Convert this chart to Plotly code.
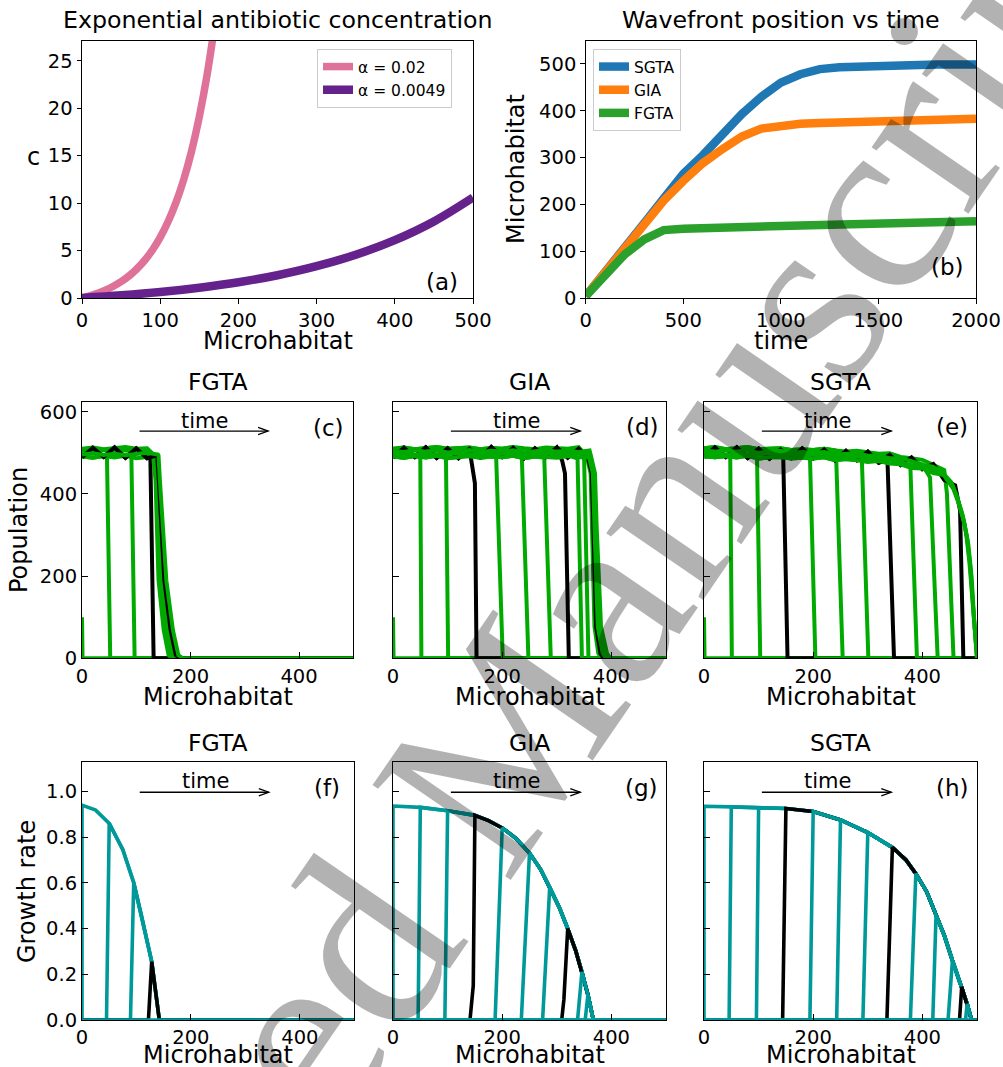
import plotly.graph_objects as go

FONT = "DejaVu Sans"
W, H = 1003, 1067

# ---------------- (a) exponential antibiotic concentration ----------------
A_X_HIGH = [0, 10, 20, 30, 40, 50, 60, 70, 80, 90, 100, 110, 120, 130, 140, 150, 160, 170]
A_C_HIGH = [0.0, 0.22, 0.49, 0.82, 1.23, 1.72, 2.32, 3.06, 3.95, 5.05, 6.39, 8.03, 10.02, 12.46, 15.44, 19.09, 23.53, 28.96]
A_X_LOW = [0, 50, 100, 150, 200, 250, 300, 350, 400, 450, 500]
A_C_LOW = [0.0, 0.28, 0.63, 1.09, 1.66, 2.40, 3.35, 4.56, 6.10, 8.07, 10.59]
A_NAMES = ["α = 0.02", "α = 0.0049"]

# ---------------- (b) wavefront position vs time ----------------
B_TIME = [0, 100, 200, 300, 400, 500, 600, 700, 800, 900, 1000, 1100, 1200, 1300, 1400, 1500, 1600, 1700, 1800, 1900, 2000]
B_SGTA = [4, 54, 105, 160, 213, 265, 305, 350, 393, 430, 460, 478, 489, 493, 495, 497, 498, 499, 499, 499, 499]
B_GIA = [4, 54, 105, 160, 208, 250, 288, 318, 345, 362, 369, 372, 374, 375, 376, 377, 378, 380, 381, 382, 383]
B_FGTA = [4, 50, 93, 125, 145, 148, 150, 151, 152, 153, 154, 155, 156, 157, 158, 159, 160, 161, 162, 163, 164]
B_NAMES = ["SGTA", "GIA", "FGTA"]

# ---------------- population profiles (c)-(e) ----------------
P_GRID = [0, 20, 40, 60, 80, 100, 120, 140, 160, 180, 200, 220, 240, 260, 280, 300, 320, 340, 360, 380, 400, 420, 440, 460, 480, 500]
P_JITTER = [
    [-9, -12, -8, -11, -7, -13, -10, -8, -12, -9, -11, -7, -13, -9, -10, -12, -8, -11, -9, -13, -8, -10, -12, -9, -11, -10],
    [-4, -1, -5, -2, -6, -3, 0, -4, -2, -5, -1, -3, -6, -2, 0, -4, -5, -1, -3, -6, -2, -4, 0, -3, -5, -2],
    [5, 2, 7, 3, 6, 1, 4, 7, 2, 5, 3, 6, 1, 4, 7, 3, 5, 2, 6, 4, 1, 5, 7, 3, 4, 6],
    [10, 13, 9, 12, 14, 10, 11, 13, 9, 12, 10, 14, 11, 9, 13, 12, 10, 14, 9, 11, 13, 10, 12, 14, 11, 9],
]
P_JITTER_BLACK = [-11, 12, -10, 13, -12, 11, -13, 10, -11, 14, -10, 12, -13, 11, -10, 13, -12, 10, -11, 13, -10, 12, -12, 11, -11, 10]
CD_LEVEL = 500
E_BASE = [501, 501, 500, 500, 500, 499, 499, 498, 498, 497, 497, 496, 495, 494, 492, 490, 488, 485, 481, 476, 470, 461, 446, 410, 300, 0]

C_FRONTS = [
    [(0, 100), (1, 0)],
    [(46, 492), (52, 0)],
    [(91, 492), (97, 0)],
    [(126, 490), (132, 0)],
    [(131, 494), (135.5, 434), (138, 300), (141, 190), (150.5, 69), (159.5, 8), (166, 0)],
    [(133.5, 494), (137.5, 434), (141, 300), (144.6, 190), (154.8, 69), (164, 8), (171, 0)],
    [(136, 494), (139.5, 434), (144, 300), (148.2, 190), (159, 69), (168.5, 8), (176, 0)],
    [(138.5, 494), (141.5, 434), (147, 300), (151.8, 190), (163.3, 69), (173, 8), (181, 0)],
    [(141, 494), (143.5, 434), (150, 300), (155.4, 190), (167.5, 69), (177.5, 8), (186, 0)],
]
D_FRONTS = [
    [(0, 100), (1, 0)],
    [(50, 490), (52, 0)],
    [(97, 490), (101, 0)],
    [(143, 485), (150, 426), (153, 0)],
    [(189, 488), (201, 0)],
    [(236, 488), (248, 0)],
    [(277, 488), (289, 0)],
    [(310, 480), (315, 450), (322, 0)],
    [(338, 486), (346, 0)],
    [(350, 486), (358, 0)],
    [(355, 490), (362, 450), (365, 320), (369, 77), (376, 12), (382, 0)],
    [(357, 490), (364, 450), (367, 320), (372, 77), (380, 12), (386, 0)],
    [(359, 490), (366, 450), (369, 320), (375, 77), (384, 12), (390, 0)],
    [(361, 490), (368, 450), (371, 320), (378, 77), (388, 12), (394, 0)],
    [(363, 490), (370, 450), (373, 320), (381, 77), (392, 12), (398, 0)],
]
E_FRONTS = [
    [(0, 100), (1, 0)],
    [(48, 498), (51, 0)],
    [(97, 497), (103, 0)],
    [(145, 496), (153, 0)],
    [(194, 494), (204, 0)],
    [(242, 492), (254, 0)],
    [(289, 489), (301, 0)],
    [(336, 482), (348, 0)],
    [(378, 465), (390, 0)],
    [(414, 440), (428, 0)],
    [(445, 400), (457, 0)],
    [(469, 360), (475, 0)],
    [(440, 446), (455, 420), (465, 385), (475, 340), (482, 292), (488, 220), (494, 104), (498, 30), (500, 0)],
    [(442, 440), (457, 412), (467, 375), (477, 328), (484, 278), (490, 200), (495, 90), (499, 20), (500, 0)],
    [(438, 450), (453, 428), (463, 395), (473, 352), (480, 305), (486, 235), (492, 125), (497, 40), (500, 5)],
]

# ---------------- growth rate profiles (f)-(h) ----------------
F_ENV_X = [0, 25, 50, 75, 95, 110, 128, 142]
F_ENV_G = [0.94, 0.918, 0.86, 0.745, 0.60, 0.45, 0.255, 0.0]
F_SNAPS = [([(0, 0)], 0), ([(45, 0)], 2), ([(89, 0)], 4), ([(122, 0)], 6)]

G_ENV_X = [0, 50, 100, 150, 175, 200, 225, 250, 270, 287, 305, 320, 335, 346, 357, 367]
G_ENV_G = [0.936, 0.93, 0.915, 0.895, 0.872, 0.84, 0.795, 0.73, 0.66, 0.58, 0.49, 0.40, 0.30, 0.21, 0.11, 0.0]
G_SNAPS = [([(0, 0)], 0), ([(46, 0)], 1), ([(95, 0)], 2), ([(141, 0), (147, 0.15)], 3),
           ([(187, 0)], 5), ([(235, 0)], 7), ([(274, 0)], 9), ([(309, 0), (313, 0.09)], 11),
           ([(338, 0)], 13), ([(352, 0)], 14)]

H_ENV_X = [0, 50, 100, 150, 200, 250, 300, 345, 370, 388, 408, 425, 440, 455, 472, 482, 490]
H_ENV_G = [0.935, 0.932, 0.928, 0.925, 0.912, 0.875, 0.82, 0.755, 0.70, 0.64, 0.56, 0.46, 0.37, 0.26, 0.145, 0.07, 0.0]
H_SNAPS = [([(0, 0)], 0), ([(46, 0)], 1), ([(96, 0)], 2), ([(144, 0)], 3), ([(194, 0)], 4),
           ([(243, 0)], 5), ([(291, 0)], 6), ([(335, 0)], 7), ([(378, 0)], 9), ([(419, 0)], 11),
           ([(447, 0)], 13), ([(468, 0)], 14), ([(479, 0)], 15)]

# ---------------- layout geometry (pixels) ----------------
PANELS = {
    "a": (82, 473, 41, 298),
    "b": (585.7, 976, 41, 298),
    "c": (82, 353.3, 402.3, 658.3),
    "d": (393, 666, 402.3, 658.3),
    "e": (704, 977, 402.3, 658.3),
    "f": (82, 354.3, 762.3, 1020),
    "g": (393, 666, 762.3, 1020),
    "h": (704, 977, 762.3, 1020),
}
ORDER = ["a", "b", "c", "d", "e", "f", "g", "h"]
XRANGE = {"a": [0, 500], "b": [0, 2000]}
YRANGE = {"a": [0, 27.08], "b": [0, 549], "c": [0, 623], "d": [0, 623], "e": [0, 623],
          "f": [0, 1.127], "g": [0, 1.127], "h": [0, 1.127]}

GREEN = "#00aa00"
TEAL = "#009999"
BLACK = "#000000"

fig = go.Figure()


def ax_ids(p):
    i = ORDER.index(p) + 1
    return ("x" if i == 1 else f"x{i}"), ("y" if i == 1 else f"y{i}")


def add_line(p, xs, ys, color, width, name=None, legend=None, showlegend=False, shape="linear"):
    xa, ya = ax_ids(p)
    fig.add_trace(go.Scatter(x=xs, y=ys, mode="lines", line=dict(color=color, width=width, shape=shape),
                             xaxis=xa, yaxis=ya, name=name, showlegend=showlegend,
                             legend=legend, hoverinfo="skip"))


# (a)
add_line("a", A_X_HIGH, A_C_HIGH, "#de7298", 7.5, A_NAMES[0], "legend", True, "spline")
add_line("a", A_X_LOW, A_C_LOW, "#66228c", 8.5, A_NAMES[1], "legend", True, "spline")

# (b)
for vals, col, nm in zip([B_SGTA, B_GIA, B_FGTA], ["#1f77b4", "#ff7f0e", "#2ca02c"], B_NAMES):
    add_line("b", B_TIME, vals, col, 8.5, nm, "legend2", True)


# population panels
def pop_panel(p, fronts, base):
    green_count = 0
    for k, front in enumerate(fronts):
        black = (k % 4 == 3)
        if black:
            jit = P_JITTER_BLACK
        else:
            jit = P_JITTER[green_count % 4]
            if k > 0:
                green_count += 1
        x0 = front[0][0]
        xs, ys = [], []
        for i, gx in enumerate(P_GRID):
            if gx < x0:
                b = base[i] if isinstance(base, list) else base
                xs.append(gx)
                ys.append(b + jit[i])
        for fx, fy in front:
            xs.append(fx)
            ys.append(fy)
        if xs[-1] < 500:
            xs.append(500)
            ys.append(0)
        add_line(p, xs, ys, BLACK if black else GREEN, 4)


pop_panel("c", C_FRONTS, CD_LEVEL)
pop_panel("d", D_FRONTS, CD_LEVEL)
pop_panel("e", E_FRONTS, E_BASE)


def growth_panel(p, snaps, env_x, env_g):
    for k, (rise, idx) in enumerate(snaps):
        black = (k % 4 == 3)
        xs = [0] + [r[0] for r in rise] + env_x[idx:] + [500]
        ys = [0] + [r[1] for r in rise] + env_g[idx:] + [0]
        add_line(p, xs, ys, BLACK if black else TEAL, 3.6)
    add_line(p, [0, 500], [0, 0], TEAL, 3.6)


growth_panel("f", F_SNAPS, F_ENV_X, F_ENV_G)
growth_panel("g", G_SNAPS, G_ENV_X, G_ENV_G)
growth_panel("h", H_SNAPS, H_ENV_X, H_ENV_G)

# ---------------- axes ----------------
layout = dict(width=W, height=H, margin=dict(l=0, r=0, t=0, b=0, autoexpand=False),
              paper_bgcolor="white", plot_bgcolor="white", showlegend=True)

TICKS = {
    "a": dict(x=[0, 100, 200, 300, 400, 500], y=[0, 5, 10, 15, 20, 25]),
    "b": dict(x=[0, 500, 1000, 1500, 2000], y=[0, 100, 200, 300, 400, 500]),
}
for p in ORDER:
    x0, x1, y0, y1 = PANELS[p]
    i = ORDER.index(p) + 1
    top = p in ("a", "b")
    common = dict(showline=True, linecolor="black", linewidth=1, mirror=True, showgrid=False,
                  zeroline=False, tickcolor="black", tickwidth=1, fixedrange=True, automargin=False,
                  ticks="outside" if top else "inside", ticklen=4.5 if top else 6,
                  tickfont=dict(family=FONT, size=19.5, color="black"))
    xa = dict(common, domain=[x0 / W, x1 / W], anchor=("y" if i == 1 else f"y{i}"),
              range=XRANGE.get(p, [0, 500]))
    ya = dict(common, domain=[1 - y1 / H, 1 - y0 / H], anchor=("x" if i == 1 else f"x{i}"),
              range=YRANGE[p])
    if top:
        xa["tickvals"] = TICKS[p]["x"]
        ya["tickvals"] = TICKS[p]["y"]
    else:
        xa["tickvals"] = [0, 200, 400]
        if p in ("c", "d", "e"):
            ya["tickvals"] = [0, 200, 400, 600]
        else:
            ya["tickvals"] = [0, 0.2, 0.4, 0.6, 0.8, 1.0]
            ya["tickformat"] = ".1f"
        if p not in ("c", "f"):
            ya["showticklabels"] = False
    layout["xaxis" if i == 1 else f"xaxis{i}"] = xa
    layout["yaxis" if i == 1 else f"yaxis{i}"] = ya

layout["legend"] = dict(x=317 / W, y=1 - 49 / H, xanchor="left", yanchor="top", bgcolor="white",
                        bordercolor="#cccccc", borderwidth=1, itemwidth=30,
                        font=dict(family=FONT, size=15.5, color="black"))
layout["legend2"] = dict(x=593 / W, y=1 - 49 / H, xanchor="left", yanchor="top", bgcolor="white",
                         bordercolor="#cccccc", borderwidth=1, itemwidth=30,
                         font=dict(family=FONT, size=15.5, color="black"))
fig.update_layout(**layout)


# ---------------- texts ----------------
def ptext(text, px, py, size, angle=0, xanchor="center", yanchor="middle", family=FONT, color="black"):
    fig.add_annotation(text=text, x=px / W, y=1 - py / H, xref="paper", yref="paper",
                       showarrow=False, xanchor=xanchor, yanchor=yanchor, textangle=angle,
                       font=dict(family=family, size=size, color=color))


ptext("Exponential antibiotic concentration", 278, 20, 23.7)
ptext("Wavefront position vs time", 781, 20, 23.7)
ptext("Microhabitat", 278, 341, 24)
ptext("time", 781, 341, 24)
ptext("c", 33, 157, 24)
ptext("Microhabitat", 516, 169, 24, angle=-90)
ptext("Population", 19, 530, 24, angle=-90)
ptext("Growth rate", 27, 892, 24, angle=-90)
for p, t in zip(["c", "d", "e"], ["FGTA", "GIA", "SGTA"]):
    x0, x1, _, _ = PANELS[p]
    ptext(t, (x0 + x1) / 2, 382, 23.5)
    ptext("Microhabitat", (x0 + x1) / 2, 697, 24)
for p, t in zip(["f", "g", "h"], ["FGTA", "GIA", "SGTA"]):
    x0, x1, _, _ = PANELS[p]
    ptext(t, (x0 + x1) / 2, 743, 23.5)
    ptext("Microhabitat", (x0 + x1) / 2, 1055, 24)

LABEL_POS = {"a": (442, 282), "b": (947, 267), "c": (328, 428), "d": (642, 427), "e": (952, 427),
             "f": (327, 788), "g": (641, 788), "h": (952, 788)}
for p, (lx, ly) in LABEL_POS.items():
    ptext(f"({p})", lx, ly, 23)

# time arrows
ARROW_X = [106, 343]
ARROW_TEXT_X = 226
ARROW_Y = {"c": 553, "d": 553, "e": 553, "f": 0.996, "g": 0.996, "h": 0.996}
TEXT_Y = {"c": 577, "d": 577, "e": 577, "f": 1.045, "g": 1.045, "h": 1.045}
for p in ["c", "d", "e", "f", "g", "h"]:
    xa, ya = ax_ids(p)
    x0, x1, y0, y1 = PANELS[p]
    ux = 500 / (x1 - x0)
    uy = YRANGE[p][1] / (y1 - y0)
    yv = ARROW_Y[p]
    fig.add_shape(type="line", x0=ARROW_X[0], x1=ARROW_X[1], y0=yv, y1=yv, xref=xa, yref=ya,
                  line=dict(color="black", width=1.3))
    hx = ARROW_X[1]
    path = (f"M {hx - 10 * ux},{yv + 3.6 * uy} L {hx},{yv} L {hx - 10 * ux},{yv - 3.6 * uy}")
    fig.add_shape(type="path", path=path, xref=xa, yref=ya, line=dict(color="black", width=1.3))
    fig.add_annotation(text="time", x=ARROW_TEXT_X, y=TEXT_Y[p], xref=xa, yref=ya, showarrow=False,
                       font=dict(family=FONT, size=21, color="black"))

# watermark
ptext("Accepted Manuscript", 473, 781, 256, angle=-55.5, family="Liberation Serif",
      color="rgba(0,0,0,0.3)")

fig.write_html("out.html", config={"displayModeBar": False},
               post_script="document.body.style.margin='0px';")
